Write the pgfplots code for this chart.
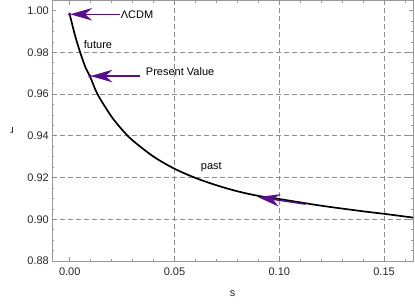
\documentclass[border=0pt]{standalone}
\usepackage{fontspec}
\setmainfont{Liberation Sans}
\usepackage{pgfplots}
\pgfplotsset{compat=1.18}
\usetikzlibrary{arrows.meta}
\definecolor{arr}{RGB}{88,16,138}
\definecolor{frm}{gray}{0.6}
\definecolor{grd}{gray}{0.55}
\definecolor{txt}{gray}{0.15}
\newcommand{\fs}{\fontsize{11bp}{13bp}\selectfont}
\begin{document}
\begin{tikzpicture}
\begin{axis}[
  scale only axis, width=361bp, height=260.5bp,
  xmin=-0.00845, xmax=0.1638, ymin=0.88, ymax=1.0048,
  axis line style={frm, line width=0.8bp},
  every tick/.style={frm, line width=0.6bp},
  tick align=inside,
  major tick length=4.5bp, minor tick length=2.5bp,
  xtick={0,0.05,0.1,0.15},
  ytick={0.88,0.90,0.92,0.94,0.96,0.98,1.00},
  minor xtick={0.01,0.02,0.03,0.04,0.06,0.07,0.08,0.09,0.11,0.12,0.13,0.14,0.16},
  minor ytick={0.885,0.89,0.895,0.905,0.91,0.915,0.925,0.93,0.935,0.945,0.95,0.955,0.965,0.97,0.975,0.985,0.99,0.995},
  extra x ticks={0.05,0.1,0.15}, extra x tick labels={},
  extra y ticks={0.90,0.92,0.94,0.96,0.98}, extra y tick labels={},
  extra tick style={grid=major, major tick length=0pt,
    major grid style={grd, line width=0.8bp, dash pattern=on 5bp off 3bp}},
  /pgf/number format/.cd, fixed, fixed zerofill, precision=2, assume math mode=true,
  /pgfplots/.cd,
  ticklabel style={font=\fs, text=txt},
  xticklabel style={anchor=north, inner sep=0pt, yshift=-7bp},
  yticklabel style={anchor=east, inner sep=0pt, xshift=-3bp},
  xlabel={s}, ylabel={r},
  xlabel style={font=\fs, text=txt, at={(axis description cs:0.5,-0.1267)}, anchor=center},
  ylabel style={font=\fs, text=txt, at={(axis description cs:-0.1108,0.5)}, anchor=center, rotate=90},
  clip=true,
]
\addplot[black, line width=1.7bp, smooth] coordinates {
  (0,0.9982) (0.0025,0.9882) (0.005,0.9799) (0.0075,0.9728) (0.0097,0.9684)
  (0.0125,0.9615) (0.015,0.9569) (0.02,0.9491) (0.025,0.9429) (0.03,0.9378)
  (0.04,0.9300) (0.05,0.9242) (0.06,0.9198) (0.07,0.9163) (0.08,0.9134)
  (0.09,0.9112) (0.10,0.9097) (0.12,0.9065) (0.14,0.9038) (0.15,0.9026) (0.1638,0.9008)
};
\addplot[arr, line width=1.4bp, -{Stealth[length=22bp,width=12.5bp,inset=7bp]}] coordinates {(0.0241,0.9982) (0.0002,0.9982)};
\addplot[arr, line width=1.4bp, -{Stealth[length=22bp,width=12.5bp,inset=7bp]}] coordinates {(0.0336,0.9686) (0.0099,0.9686)};
\addplot[arr, line width=1.4bp, -{Stealth[length=22bp,width=12.5bp,inset=7bp]}] coordinates {(0.1125,0.9072) (0.0898,0.9106)};
\addplot[arr, only marks, mark=*, mark size=1.5bp] coordinates {(0,0.9982) (0.0097,0.9686)};
\node[anchor=west, inner sep=0pt, font=\fs] at (axis cs:0.0243,0.9982) {ΛCDM};
\node[anchor=west, inner sep=0pt, font=\fs] at (axis cs:0.0363,0.9708) {Present Value};
\node[anchor=center, inner sep=0pt, font=\fs] at (axis cs:0.0135,0.9836) {future};
\node[anchor=center, inner sep=0pt, font=\fs] at (axis cs:0.0676,0.9249) {past};
\end{axis}
\pgfresetboundingbox
\useasboundingbox (-52bp,-43bp) rectangle (363bp,261bp);
\end{tikzpicture}
\end{document}
